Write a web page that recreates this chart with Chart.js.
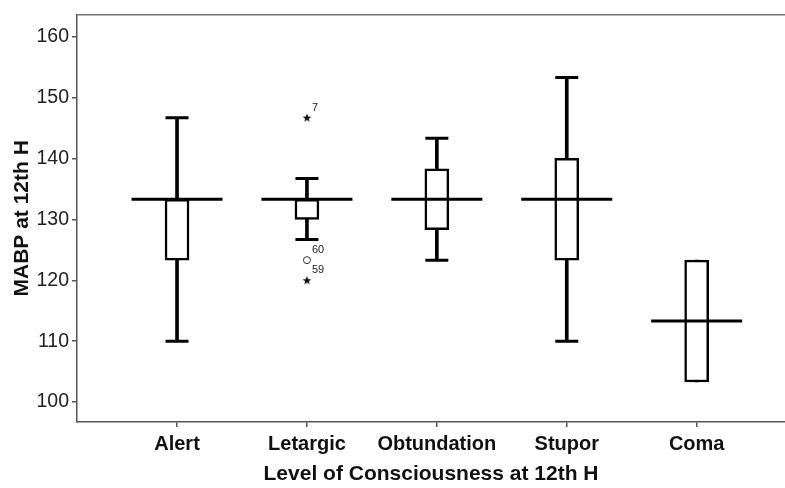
<!DOCTYPE html>
<html>
<head>
<meta charset="utf-8">
<script src="https://cdn.jsdelivr.net/npm/chart.js@4"></script>
<style>
html,body{margin:0;padding:0;background:#fff;}
#wrap{width:785px;height:488px;position:relative;}
</style>
</head>
<body>
<div id="wrap"><canvas id="c" width="785" height="488"></canvas></div>
<script>
// ---- data ----
const categories   = ['Alert', 'Letargic', 'Obtundation', 'Stupor', 'Coma'];
const whiskerLow   = [110.0, 126.7, 123.3, 110.0, 103.3];
const q1           = [123.3, 130.0, 128.3, 123.3, 103.3];
const median       = [133.3, 133.3, 133.3, 133.3, 113.3];
const q3           = [133.3, 133.3, 138.3, 140.0, 123.3];
const whiskerHigh  = [146.7, 136.7, 143.3, 153.3, 123.3];
const yTicks       = [100, 110, 120, 130, 140, 150, 160];

const outlierCategory = ['Letargic', 'Letargic', 'Letargic'];
const outlierValues   = [146.7, 123.3, 120.0];
const outlierIds      = ['7', '60', '59'];
const outlierKinds    = ['extreme', 'mild', 'extreme'];

// ---- build datasets ----
const xOf = name => categories.indexOf(name) + 1;
const FONT = "'Liberation Sans', Arial, sans-serif";

const whiskerData = categories.map((c, i) => ({x: i + 1, y: [whiskerLow[i], whiskerHigh[i]]}));
const boxData     = categories.map((c, i) => ({x: i + 1, y: [q1[i], q3[i]]}));
const medianData  = categories.map((c, i) => ({x: i + 1, y: median[i]}));
const capData = [];
categories.forEach((c, i) => {
  if (whiskerHigh[i] !== q3[i]) capData.push({x: i + 1, y: whiskerHigh[i]});
  if (whiskerLow[i] !== q1[i]) capData.push({x: i + 1, y: whiskerLow[i]});
});
const mildData = [], mildIds = [], extData = [], extIds = [];
outlierValues.forEach((v, k) => {
  const p = {x: xOf(outlierCategory[k]), y: v};
  if (outlierKinds[k] === 'mild') { mildData.push(p); mildIds.push(outlierIds[k]); }
  else { extData.push(p); extIds.push(outlierIds[k]); }
});

// small filled five-point star used as the extreme-outlier marker
const starImg = document.createElement('canvas');
starImg.width = 10; starImg.height = 10;
(function () {
  const g = starImg.getContext('2d');
  g.fillStyle = '#111';
  g.beginPath();
  for (let k = 0; k < 10; k++) {
    const r = k % 2 === 0 ? 4.6 : 1.9;
    const a = -Math.PI / 2 + k * Math.PI / 5;
    const px = 5 + r * Math.cos(a), py = 5.4 + r * Math.sin(a);
    if (k === 0) g.moveTo(px, py); else g.lineTo(px, py);
  }
  g.closePath();
  g.fill();
})();

const outlierLabels = {
  id: 'outlierLabels',
  afterDatasetsDraw(chart) {
    const ctx = chart.ctx;
    ctx.save();
    ctx.font = "11px " + FONT;
    ctx.fillStyle = '#222';
    ctx.textAlign = 'left';
    ctx.textBaseline = 'middle';
    chart.data.datasets.forEach((ds, di) => {
      if (!ds.ids) return;
      const meta = chart.getDatasetMeta(di);
      meta.data.forEach((el, j) => {
        ctx.fillText(ds.ids[j], el.x + 5, el.y - 10);
      });
    });
    ctx.restore();
  }
};

new Chart(document.getElementById('c'), {
  type: 'bar',
  data: {
    datasets: [
      { type: 'scatter', data: medianData, pointStyle: 'line', radius: 45.5, borderWidth: 3,
        borderColor: '#000', backgroundColor: '#000', hoverRadius: 45.5 },
      { type: 'scatter', data: capData, pointStyle: 'line', radius: 11.5, borderWidth: 3,
        borderColor: '#000', backgroundColor: '#000', hoverRadius: 11.5 },
      { type: 'scatter', data: mildData, ids: mildIds, pointStyle: 'circle', radius: 3.5, borderWidth: 1,
        borderColor: '#333', backgroundColor: '#fff' },
      { type: 'scatter', data: extData, ids: extIds, pointStyle: starImg, radius: 5 },
      { type: 'bar', data: boxData, grouped: false, barThickness: 24, borderWidth: 2.5,
        borderColor: '#000', backgroundColor: '#fff', borderSkipped: false },
      { type: 'bar', data: whiskerData, grouped: false, barThickness: 3, borderWidth: 0,
        backgroundColor: '#000' }
    ]
  },
  options: {
    responsive: false,
    animation: false,
    events: [],
    layout: { autoPadding: false, padding: { left: 0, right: 0, top: 13, bottom: 0 } },
    plugins: { legend: { display: false }, tooltip: { enabled: false } },
    scales: {
      x: {
        type: 'linear', position: 'bottom', offset: false,
        min: 0.23, max: 5.68,
        afterBuildTicks: s => { s.ticks = categories.map((c, i) => ({value: i + 1})); },
        afterFit: s => { s.height = 66; },
        ticks: {
          callback: v => categories[v - 1] || '',
          font: { family: FONT, size: 20, weight: 'bold' }, color: '#111',
          padding: 5, maxRotation: 0, autoSkip: false
        },
        grid: { offset: false, drawOnChartArea: false, tickLength: 5, color: '#555', lineWidth: 1.5 },
        border: { color: '#555', width: 1.5 },
        title: { display: true, text: 'Level of Consciousness at 12th H',
          font: { family: FONT, size: 21, weight: 'bold' }, color: '#111', padding: { top: 0, bottom: 1 } }
      },
      xTop: {
        type: 'linear', position: 'top', min: 0, max: 1,
        ticks: { display: false },
        grid: { display: false, drawTicks: false },
        border: { display: true, color: '#777', width: 1.5 },
        afterFit: s => { s.height = 0; }
      },
      y: {
        type: 'linear', position: 'left',
        min: 96.73, max: 163.6,
        afterBuildTicks: s => { s.ticks = yTicks.map(v => ({value: v})); },
        afterFit: s => { s.width = 77; },
        ticks: { font: { family: FONT, size: 19.5 }, color: '#222', padding: 3 },
        grid: { drawOnChartArea: false, tickLength: 5, color: '#555', lineWidth: 1.5 },
        border: { color: '#555', width: 1.5 },
        title: { display: true, text: 'MABP at 12th H',
          font: { family: FONT, size: 21, weight: 'bold' }, color: '#111', padding: { top: 10, bottom: 0 } }
      }
    }
  },
  plugins: [outlierLabels]
});
</script>
</body>
</html>
